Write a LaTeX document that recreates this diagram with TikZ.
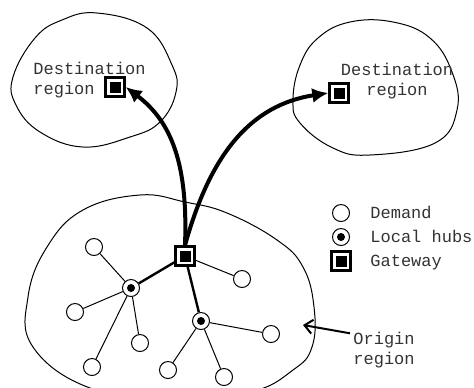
\documentclass[tikz,border=0pt]{standalone}
\usepackage{fontspec}
\newfontfamily\courierfont{Liberation Mono}
\usetikzlibrary{arrows.meta}

\begin{document}
\begin{tikzpicture}[x=0.5pt,y=-0.5pt,
  demand/.style={circle,draw=black,line width=0.5pt,fill=white,minimum size=8.5pt,inner sep=0pt},
  hub/.style={demand,path picture={\fill[black] (path picture bounding box.center) circle (2pt);}},
  gateway/.style={rectangle,draw=black,line width=1.3pt,fill=white,minimum size=9.4pt,inner sep=0pt,
    path picture={\fill[black] (path picture bounding box.center) ++(-2.75pt,-2.75pt) rectangle ++(5.5pt,5.5pt);}},
  region/.style={draw=black,line width=0.5pt},
  lbl/.style={font=\courierfont\fontsize{8.5}{10}\selectfont,text=black!80,inner sep=0pt},
  link/.style={line width=0.5pt},
  trunk/.style={line width=1.2pt},
  flow/.style={-{Latex[length=8pt,width=7.5pt]},line width=2pt},
  pointer/.style={-{Straight Barb[length=4pt,width=7pt]},line width=1pt},
]
\useasboundingbox (0,0) rectangle (474,387);
% regions
\draw[region] plot[smooth cycle,tension=0.7] coordinates {(97,13) (147,28) (172,65) (176,92) (160,122) (130,137) (83,147) (40,132) (16,105) (13,77) (35,38) (62,20)};
\draw[region] plot[smooth cycle,tension=0.7] coordinates {(350,22) (393,22) (430,38) (452,72) (457,110) (435,143) (370,155) (333,148) (300,123) (293,100) (300,65) (318,38)};
\draw[region] plot[smooth cycle,tension=0.7] coordinates {(140,195) (185,202) (227,213) (277,240) (303,267) (314,307) (312,347) (293,370) (250,392) (170,398) (90,388) (33,347) (28,297) (47,247) (83,210)};
%
\node[gateway] (g) at (185,256) {};
\node[hub] (h1) at (131,288) {};
\node[hub] (h2) at (201,321) {};
\node[demand] (d1) at (94,247) {};
\node[demand] (d2) at (75,312) {};
\node[demand] (d3) at (92,367) {};
\node[demand] (d4) at (140,343) {};
\node[demand] (d5) at (242,279) {};
\node[demand] (d6) at (271,334) {};
\node[demand] (d7) at (168,370) {};
\node[demand] (d8) at (224,377) {};
%
\path[trunk] (g) edge (h1) edge (h2);
\path[link] (g) edge (d5);
\path[link] (h1) edge (d1) edge (d2) edge (d3) edge (d4);
\path[link] (h2) edge (d6) edge (d7) edge (d8);
% destinations
\node[lbl,align=left,anchor=base west] (destl) at (33,94) {Destination\\region};
\node[gateway] (gl) at (115,87) {};
\node[lbl,align=center,anchor=base] (destr) at (397,95) {Destination\\region};
\node[gateway] (gr) at (339,93) {};
%
\draw[flow] (g.north) .. controls (188,165) and (172,122) .. (gl.east);
\draw[flow] (g.north) .. controls (210,155) and (250,105) .. (gr.west);
% legend
\node[demand] (kd) at (341,213) {};
\node[lbl,anchor=base west] (kdt) at (370,218) {Demand};
\node[hub] (kh) at (341,237) {};
\node[lbl,anchor=base west] (kht) at (370,242) {Local hubs};
\node[gateway] (kg) at (341,261) {};
\node[lbl,anchor=base west] (kgt) at (370,266) {Gateway};
% origin
\node[lbl,align=left,anchor=base west] (orig) at (353,364) {Origin\\region};
\coordinate (oedge) at (303,325);
\draw[pointer] ([shift={(-1.5pt,-1pt)}]orig.north west) -- (oedge);
\end{tikzpicture}
\end{document}
